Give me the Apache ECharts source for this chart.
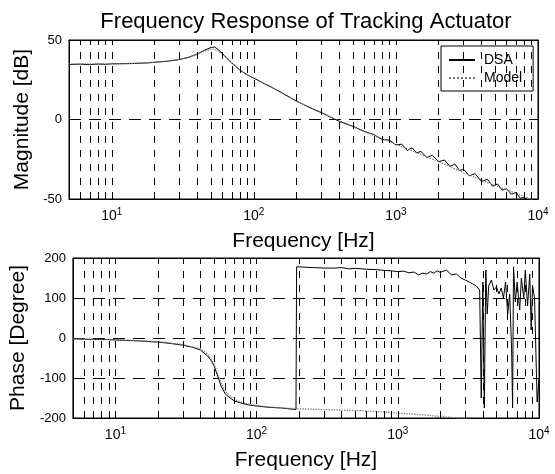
<!DOCTYPE html>
<html>
<head>
<meta charset="utf-8">
<script src="https://cdn.jsdelivr.net/npm/echarts@6/dist/echarts.min.js"></script>
<style>
  html, body { margin: 0; padding: 0; background: #fff; }
</style>
</head>
<body>
<div id="main" style="width: 555px; height: 474px"></div>
<script>
// magnitude, DSA measurement
const magFreqDsa = [5, 6, 7, 8, 9, 10, 12, 14, 16, 18, 20, 25, 30, 35, 40, 45, 50, 53, 56, 60, 65, 70, 80, 90, 100,
  120, 150, 200, 250, 300, 400, 500, 600, 700, 800, 900, 1000, 1100, 1200, 1300, 1400, 1500, 1650, 1800, 2000,
  2200, 2400, 2600, 2800, 3000, 3300, 3600, 4000, 4400, 4800, 5200, 5600, 6000, 6500, 7000, 7500, 8000, 9000, 10000]
const magDsa = [34.6, 34.8, 34.5, 34.9, 34.7, 35, 35.1, 35.2, 35.4, 35.6, 36, 36.7, 37.7, 39.2, 41.2, 43.6, 45.3, 45.6, 44, 41.5, 38.3, 35.5, 31, 28, 26,
  22.3, 17.8, 11.5, 7.3, 4.2, -1.2, -4.3, -7.5, -9.5, -12.5, -13, -16, -15.5, -19.5, -17.8, -21, -20, -24, -22.5, -26.5,
  -25.5, -29.5, -28, -32, -31.5, -35.5, -34, -39, -37.5, -42, -40.5, -44.5, -43.5, -47, -46, -49.5, -49, -52, -54]

// magnitude, model
const magFreqModel = [5, 6, 8, 10, 13, 16, 20, 25, 30, 35, 40, 45, 50, 52, 55, 60, 65, 70, 80, 90, 100, 120, 150, 200,
  250, 300, 400, 500, 700, 1000, 1500, 2000, 3000, 4000, 5000, 7000, 8000, 10000]
const magModel = [35, 35, 35, 35, 35.2, 35.5, 36, 36.8, 37.8, 39.2, 41, 43, 44.2, 44.3, 43.5, 41.3, 38.5, 35.7, 31.2, 28.2, 26, 22.5, 18, 11.5,
  7.5, 4.3, -1, -4.5, -10, -15.5, -22, -26.5, -33.5, -38, -41.5, -46.5, -48.5, -52]

// phase, DSA measurement (wrapped to +-180)
const phFreqDsa = [5, 6, 7, 8, 9, 10, 12, 14, 16, 18, 20, 25, 30, 35, 40, 45, 48, 50, 53, 56, 60, 65, 70, 80, 90, 100,
  120, 150, 180, 190, 192, 220, 250, 300, 350, 400, 450, 500, 600, 700, 800, 900, 1000, 1100, 1200, 1300, 1400, 1500,
  1600, 1700, 1800, 1900, 2000, 2200, 2400, 2600, 2800, 3000, 3200, 3400, 3600, 3800, 3900, 4000, 4100, 4200, 4300,
  4400, 4600, 4800, 5000, 5200, 5400, 5600, 5800, 6000, 6200, 6400, 6500, 6600, 6800, 7000, 7300, 7500, 7800, 8000,
  8300, 8600, 8800, 9000, 9300, 9500, 9700, 10000]
const phaseDsa = [-2, -3, -3.5, -4, -4, -5, -6, -7, -8, -9.5, -10, -14, -18, -23, -30, -45, -58, -70, -95, -120, -140, -150, -158, -164, -168, -170,
  -173, -175, -178, -179, 178, 177, 176, 175, 174.5, 176, 173, 174, 172, 171, 169, 168, 166, 167, 163, 165, 158, 162,
  160, 166, 162, 168, 164, 170, 158, 160, 150, 145, 140, 135, 130, 120, -150, 140, -175, 170, 60,
  130, 145, 120, 128, 110, 125, 100, 140, 60, 110, -30, -175, 178, 90, 140, 70, 150, 100, 170,
  80, 160, 20, 130, 100, 100, -160, -100]

// phase, model (unwrapped)
const phFreqModel = [5, 10, 20, 30, 40, 45, 50, 53, 56, 60, 65, 70, 80, 90, 100, 120, 150, 200, 300, 500, 800, 1000,
  1500, 2000, 3000, 5000, 10000]
const phaseModel = [-2, -4, -9, -16, -27, -40, -65, -90, -112, -132, -146, -154, -162, -166, -169, -172, -175, -177, -179, -181, -185, -188,
  -192, -196, -202, -210, -225]

const magTicks = { min: -50, max: 50, interval: 50 }
const phaseTicks = { min: -200, max: 200, interval: 100 }

// dashed grid lines at every 1..9 x 10^k
const gridFreqs = []
for (let k = 0; k < 4; k++) {
  for (let m = 1; m <= 9; m++) {
    const f = m * Math.pow(10, k)
    if (f > 5 && f < 10000) gridFreqs.push(f)
  }
}

const pairs = (xs, ys) => xs.map((x, i) => [x, ys[i]])

const font = 'Liberation Sans, Arial, sans-serif'

const chartDom = document.getElementById('main')
const myChart = echarts.init(chartDom)

const logLabel = function (v) {
  const e = Math.round(Math.log10(v))
  if (Math.abs(v - Math.pow(10, e)) / v < 1e-6) return '10{s|' + e + '}'
  return ''
}

const xBottom = (gridIndex) => ({
  type: 'log',
  gridIndex: gridIndex,
  min: 5,
  max: 10000,
  logBase: 10,
  name: 'Frequency [Hz]',
  nameLocation: 'middle',
  nameGap: 32,
  nameTextStyle: { fontSize: 21, color: '#000', fontFamily: font },
  axisLine: { show: true, onZero: false, lineStyle: { color: '#000', width: 1 } },
  axisTick: { show: true, inside: true, length: 5, lineStyle: { color: '#000' } },
  axisLabel: {
    formatter: logLabel,
    margin: 8,
    color: '#000',
    fontSize: 14,
    fontFamily: font,
    rich: { s: { fontSize: 10, fontFamily: font, color: '#000', padding: [0, 0, 8, 0] } }
  },
  splitLine: { show: false }
})

const xTop = (gridIndex) => ({
  type: 'log',
  gridIndex: gridIndex,
  position: 'top',
  min: 5,
  max: 10000,
  logBase: 10,
  axisLine: { show: true, onZero: false, lineStyle: { color: '#000', width: 1 } },
  axisTick: { show: true, inside: true, length: 5, lineStyle: { color: '#000' } },
  axisLabel: { show: false },
  splitLine: { show: false }
})

const yLeft = (gridIndex, ticks, name, gap) => ({
  type: 'value',
  gridIndex: gridIndex,
  min: ticks.min,
  max: ticks.max,
  interval: ticks.interval,
  name: name,
  nameLocation: 'middle',
  nameGap: gap,
  nameTextStyle: { fontSize: 21, color: '#000', fontFamily: font },
  axisLine: { show: true, onZero: false, lineStyle: { color: '#000', width: 1 } },
  axisTick: { show: true, inside: true, length: 5, lineStyle: { color: '#000' } },
  axisLabel: { color: '#000', fontSize: 13, fontFamily: font, margin: 7 },
  splitLine: { show: true, lineStyle: { color: '#000', type: [12, 8], width: 1 } }
})

const yRight = (gridIndex, ticks) => ({
  type: 'value',
  gridIndex: gridIndex,
  position: 'right',
  min: ticks.min,
  max: ticks.max,
  interval: ticks.interval,
  axisLine: { show: true, onZero: false, lineStyle: { color: '#000', width: 1 } },
  axisTick: { show: true, inside: true, length: 5, lineStyle: { color: '#000' } },
  axisLabel: { show: false },
  splitLine: { show: false }
})

const vGrid = {
  silent: true,
  symbol: 'none',
  label: { show: false },
  lineStyle: { color: '#000', type: [7, 7], width: 1 },
  data: gridFreqs.map((f) => ({ xAxis: f }))
}

const dsaStyle = { color: '#000', width: 1, type: 'solid' }
const modelStyle = { color: '#777', width: 1.3, type: 'dotted' }

const option = {
  animation: false,
  backgroundColor: '#fff',
  title: {
    text: 'Frequency Response of Tracking Actuator',
    left: 301,
    textAlign: 'center',
    top: 6,
    textStyle: { fontSize: 22, fontWeight: 'normal', color: '#000', fontFamily: font }
  },
  legend: {
    data: ['DSA', 'Model'],
    orient: 'vertical',
    left: 441,
    top: 46,
    padding: [7, 11, 6, 7],
    itemGap: 4,
    itemWidth: 26,
    itemHeight: 14,
    backgroundColor: '#fff',
    borderColor: '#000',
    borderWidth: 1,
    borderRadius: 0,
    itemStyle: { opacity: 0 },
    textStyle: { fontSize: 14, color: '#000', fontFamily: font, padding: [0, 0, 0, 4] }
  },
  grid: [
    { left: 69, top: 40, width: 469, height: 159, show: true, borderColor: '#000', borderWidth: 1, backgroundColor: '#fff' },
    { left: 69, top: 258, width: 470, height: 160, show: true, borderColor: '#000', borderWidth: 1, backgroundColor: '#fff' }
  ],
  xAxis: [xBottom(0), xTop(0), xBottom(1), xTop(1)],
  yAxis: [
    yLeft(0, magTicks, 'Magnitude [dB]', 36),
    yRight(0, magTicks),
    yLeft(1, phaseTicks, 'Phase [Degree]', 36),
    yRight(1, phaseTicks)
  ],
  series: [
    {
      name: 'DSA',
      type: 'line',
      xAxisIndex: 0,
      yAxisIndex: 0,
      symbol: 'none',
      lineStyle: dsaStyle,
      itemStyle: { color: '#000' },
      data: pairs(magFreqDsa, magDsa),
      markLine: vGrid,
      z: 3
    },
    {
      name: 'Model',
      type: 'line',
      xAxisIndex: 0,
      yAxisIndex: 0,
      symbol: 'none',
      lineStyle: modelStyle,
      itemStyle: { color: '#777' },
      data: pairs(magFreqModel, magModel),
      z: 4
    },
    {
      name: 'DSA',
      type: 'line',
      xAxisIndex: 2,
      yAxisIndex: 2,
      symbol: 'none',
      lineStyle: dsaStyle,
      itemStyle: { color: '#000' },
      data: pairs(phFreqDsa, phaseDsa),
      markLine: vGrid,
      z: 3
    },
    {
      name: 'Model',
      type: 'line',
      xAxisIndex: 2,
      yAxisIndex: 2,
      symbol: 'none',
      lineStyle: modelStyle,
      itemStyle: { color: '#777' },
      data: pairs(phFreqModel, phaseModel),
      z: 4
    }
  ]
}

option && myChart.setOption(option)
</script>
</body>
</html>
